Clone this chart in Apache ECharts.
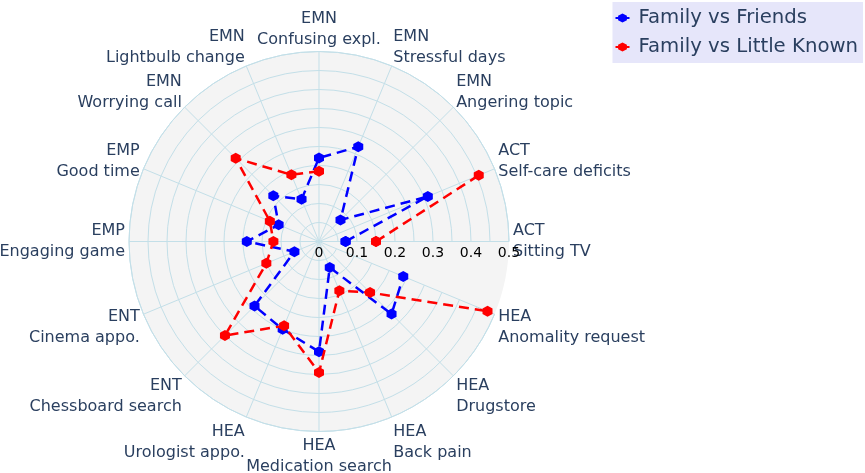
<!DOCTYPE html>
<html>
<head>
<meta charset="utf-8">
<script src="https://cdn.jsdelivr.net/npm/echarts@6/dist/echarts.min.js"></script>
<style>
	html, body { margin: 0; padding: 0; background: #fff; }
	#chart { width: 865px; height: 473px; }
</style>
</head>
<body>
<div id="chart"></div>
<script>
// Categorías en orden antihorario, empezando en 0° (derecha)
const grupos = ['ACT', 'ACT', 'EMN', 'EMN', 'EMN', 'EMN', 'EMN', 'EMP', 'EMP', 'ENT', 'ENT', 'HEA', 'HEA', 'HEA', 'HEA', 'HEA']
const categorias = [
	'Sitting TV', 'Self-care deficits', 'Angering topic', 'Stressful days',
	'Confusing expl.', 'Lightbulb change', 'Worrying call', 'Good time',
	'Engaging game', 'Cinema appo.', 'Chessboard search', 'Urologist appo.',
	'Medication search', 'Back pain', 'Drugstore', 'Anomality request'
]

// Valores (null = sin dato)
const familiaAmigos = [0.07, 0.31, 0.08, 0.27, 0.22, 0.12, 0.17, 0.115, 0.19, 0.07, 0.24, 0.25, 0.29, 0.074, 0.27, 0.24]
const familiaPocoConocidos = [0.15, 0.455, null, null, 0.185, 0.19, 0.31, 0.14, 0.12, 0.15, 0.35, 0.24, 0.345, 0.14, 0.19, 0.48]

const ticksRadio = [0, 0.1, 0.2, 0.3, 0.4, 0.5]

// Ajuste vertical de cada etiqueta angular (px, positivo = hacia abajo)
const ajusteEtiqueta = [0, 15, 9, 6, 3, 6, 9, 15, 0, -9, -3, 1, 0, 1, -3, -9]

const hexagono = 'path://M0,-1L0.866,-0.5L0.866,0.5L0,1L-0.866,0.5L-0.866,-0.5Z'

// Convierte los valores a pares [radio, índice de categoría] y cierra el polígono
function aPolar(valores) {
	const puntos = valores.map((v, i) => [v === null ? '-' : v, i])
	puntos.push([valores[0] === null ? '-' : valores[0], 0])
	return puntos
}

const colorGrid = '#c3dfe8'
const fuente = 'DejaVu Sans'
const centro = [319, 241.5]
const radio = 190

const chart = echarts.init(document.getElementById('chart'))

chart.setOption({
	animation: false,
	textStyle: { fontFamily: fuente },
	legend: {
		orient: 'vertical',
		right: 2,
		top: 2,
		backgroundColor: '#e6e6fa',
		padding: [6, 5, 6, 2],
		itemGap: 9,
		itemWidth: 14,
		itemHeight: 11,
		textStyle: { fontSize: 19.7, color: '#2a3f5f', fontFamily: fuente, padding: [0, 0, 0, 4] },
		lineStyle: { type: 'solid', width: 2 },
		data: ['Family vs Friends', 'Family vs Little Known'],
	},
	// polar 0: solo el fondo; polar 1: rejilla, ejes y series
	polar: [
		{ center: centro, radius: radio },
		{ center: centro, radius: radio },
	],
	angleAxis: [
		{
			polarIndex: 0,
			type: 'value',
			min: 0,
			max: 360,
			startAngle: 0,
			axisLine: { show: false },
			axisTick: { show: false },
			axisLabel: { show: false },
			splitLine: { show: false },
			z: 0,
		},
		{
			polarIndex: 1,
			type: 'category',
			boundaryGap: false,
			startAngle: 0,
			clockwise: false,
			data: categorias.map((c, i) => ({
				value: c,
				textStyle: { padding: [ajusteEtiqueta[i], 0, -ajusteEtiqueta[i], 0] },
			})),
			axisLine: { lineStyle: { color: colorGrid, width: 1 } },
			axisTick: { show: false },
			splitLine: { show: true, lineStyle: { color: colorGrid, width: 1 } },
			axisLabel: {
				margin: 4,
				fontSize: 16,
				lineHeight: 21,
				color: '#2a3f5f',
				fontFamily: fuente,
				formatter: (valor, i) => grupos[i] + '\n' + valor,
			},
			z: 1,
		},
	],
	radiusAxis: [
		{
			polarIndex: 0,
			type: 'value',
			min: 0,
			max: 0.5,
			axisLine: { show: false },
			axisTick: { show: false },
			axisLabel: { show: false },
			splitLine: { show: false },
			splitArea: { show: true, areaStyle: { color: ['#f4f4f4'] } },
			z: 0,
		},
		{
			polarIndex: 1,
			type: 'value',
			min: 0,
			max: 0.5,
			interval: 0.05,
			axisLine: { show: false },
			axisTick: { show: false },
			splitLine: { lineStyle: { color: colorGrid, width: 1 } },
			axisLabel: {
				margin: -19,
				fontSize: 14,
				color: '#000',
				fontFamily: fuente,
				formatter: (valor) => {
					const t = ticksRadio.find((x) => Math.abs(x - valor) < 1e-6)
					return t === undefined ? '' : String(t)
				},
			},
			z: 1,
		},
	],
	series: [
		{
			name: 'Family vs Friends',
			type: 'line',
			coordinateSystem: 'polar',
			polarIndex: 1,
			data: aPolar(familiaAmigos),
			symbol: hexagono,
			symbolSize: [10, 11],
			showAllSymbol: true,
			connectNulls: false,
			itemStyle: { color: '#0000ff' },
			lineStyle: { color: '#0000ff', width: 2.5, type: [10, 6] },
			z: 3,
		},
		{
			name: 'Family vs Little Known',
			type: 'line',
			coordinateSystem: 'polar',
			polarIndex: 1,
			data: aPolar(familiaPocoConocidos),
			symbol: hexagono,
			symbolSize: [10, 11],
			showAllSymbol: true,
			connectNulls: false,
			itemStyle: { color: '#ff0000' },
			lineStyle: { color: '#ff0000', width: 2.5, type: [10, 6] },
			z: 4,
		},
	],
})
</script>
</body>
</html>
